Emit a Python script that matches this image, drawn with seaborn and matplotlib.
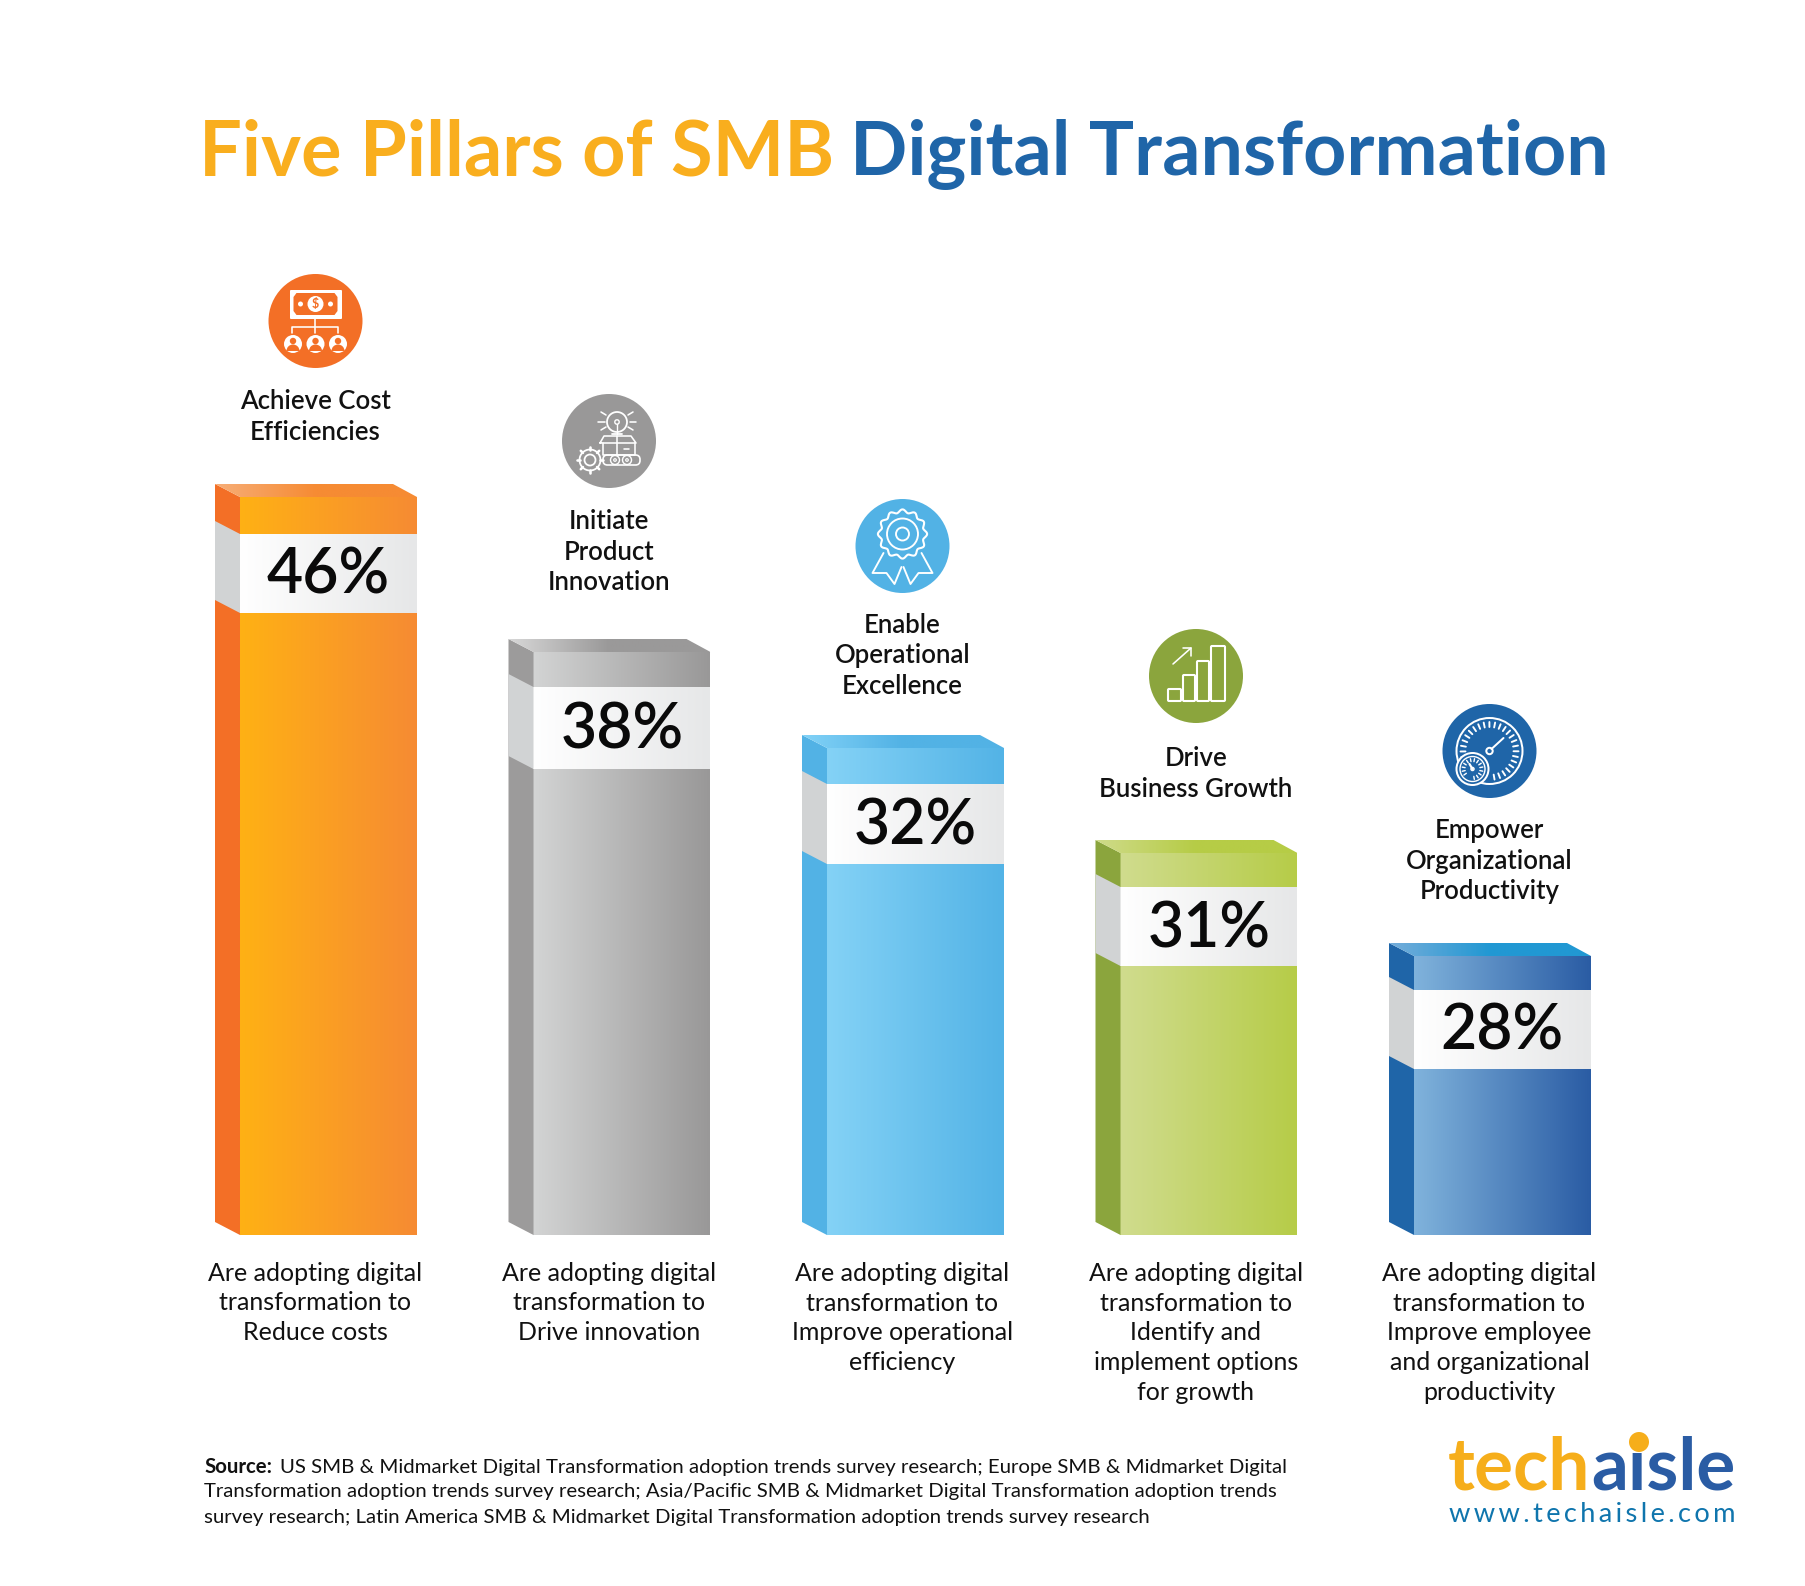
import numpy as np
import pandas as pd
import matplotlib
matplotlib.use('Agg')
import matplotlib.pyplot as plt
import matplotlib.colors as mcolors
from matplotlib.patches import Circle, Polygon, Wedge, FancyBboxPatch
import seaborn as sns

# labels and values
categories = ['Achieve Cost\nEfficiencies', 'Initiate\nProduct\nInnovation',
              'Enable\nOperational\nExcellence', 'Drive\nBusiness Growth',
              'Empower\nOrganizational\nProductivity']
pct_labels = ['46%', '38%', '32%', '31%', '28%']
# the bars in the picture are not proportional to the percent, so heights are read off as drawn
bar_heights = [738, 583, 487, 382, 279]
captions = ['Are adopting digital\ntransformation to\nReduce costs',
            'Are adopting digital\ntransformation to\nDrive innovation',
            'Are adopting digital\ntransformation to\nImprove operational\nefficiency',
            'Are adopting digital\ntransformation to\nIdentify and\nimplement options\nfor growth',
            'Are adopting digital\ntransformation to\nImprove employee\nand organizational\nproductivity']
source_lines = ['US SMB & Midmarket Digital Transformation adoption trends survey research; Europe SMB & Midmarket Digital',
                'Transformation adoption trends survey research; Asia/Pacific SMB & Midmarket Digital Transformation adoption trends',
                'survey research; Latin America SMB & Midmarket Digital Transformation adoption trends survey research']

# colours per bar
front_left = ['#FFB114', '#D3D4D4', '#84D2F6', '#D0DC8E', '#80B3DC']
front_right = ['#F68B33', '#999898', '#53B3E6', '#B6CC48', '#2A5CA4']
side_col = ['#F36F26', '#9C9B9B', '#52B2E5', '#8BA53D', '#1F65A8']
top_left = ['#F7AE78', '#D8D8D8', '#82D2F7', '#CFDB8A', '#75ADDA']
top_right = ['#F68B33', '#9A9999', '#52B2E5', '#B6CC46', '#2198D3']
icon_col = ['#F36F26', '#999898', '#52B2E5', '#8BA53D', '#1F65A8']

# layout in image pixels
W, H = 1806, 1586
BASE = 1235
STEP = 293.5
icon_y = [321, 441, 546, 676, 751]
head_y = [417, 552, 656, 774, 861]
band_off = [37, 35, 36, 34, 34]
band_h = [79, 82, 80, 79, 79]
ICON_R = 47
TXT = '#111111'
FONT = 'Lato'

sns.set_theme(style='white')
plt.rcParams['font.family'] = [FONT, 'DejaVu Sans']

fig = plt.figure(figsize=(W / 100, H / 100), dpi=100, facecolor='white')
ax = fig.add_axes([0, 0, 1, 1])
df = pd.DataFrame({'cat': categories, 'h': bar_heights})
sns.barplot(data=df, x='cat', y='h', hue='cat', palette=front_right, width=177 / STEP,
            legend=False, ax=ax, saturation=1)
ax.set_xlim(-328.5 / STEP, (W - 328.5) / STEP)
ax.set_ylim(BASE - H, BASE)
ax.axis('off')

# overlay in pixels, y down
ov = fig.add_axes([0, 0, 1, 1])
ov.set_xlim(0, W)
ov.set_ylim(H, 0)
ov.axis('off')
ov.patch.set_alpha(0)
ov.set_autoscale_on(False)


def gradient(c0, c1, x0, x1, y0, y1, clip=None, stop=1.0, z=2):
    t = np.clip(np.linspace(0, 1, 256) / stop, 0, 1)[:, None]
    rgb = (1 - t) * np.array(mcolors.to_rgb(c0)) + t * np.array(mcolors.to_rgb(c1))
    im = ov.imshow(rgb[None, :, :], extent=(x0, x1, y1, y0), aspect='auto',
                   interpolation='bilinear', zorder=z)
    if clip is not None:
        clip.set_transform(ov.transData)
        im.set_clip_path(clip)


def line(pts, lw=2.0, c='white', z=6):
    xs, ys = zip(*pts)
    ov.plot(xs, ys, color=c, lw=lw * 0.72, solid_capstyle='round', solid_joinstyle='round', zorder=z)


def ring(x, y, r, lw=2.0, fc='none', z=6):
    ov.add_patch(Circle((x, y), r, fc=fc, ec='white', lw=lw * 0.72, zorder=z))


def spokes(x, y, r0, r1, a0, a1, n, lw=2.0, z=6):
    for a in np.radians(np.linspace(a0, a1, n)):
        line([(x + r0 * np.cos(a), y + r0 * np.sin(a)), (x + r1 * np.cos(a), y + r1 * np.sin(a))], lw, z=z)


def icon_money(x, y, bg):
    ov.add_patch(FancyBboxPatch((x - 25.5, y - 31), 52, 29, boxstyle='round,pad=0,rounding_size=1', fc='white', ec='none', zorder=6))
    ov.add_patch(Polygon([(x - 19, y - 28), (x + 19, y - 28), (x + 22, y - 24), (x + 22, y - 10), (x + 19, y - 6),
                          (x - 19, y - 6), (x - 22, y - 10), (x - 22, y - 24)], fc=bg, ec='none', zorder=6))
    ov.add_patch(Circle((x, y - 17), 8, fc='white', ec='none', zorder=7))
    ov.text(x, y - 17, '$', color=bg, fontsize=9, fontweight='bold', ha='center', va='center', zorder=8)
    for dx in (-15, 15):
        ov.add_patch(Circle((x + dx, y - 17), 2.5, fc='white', ec='none', zorder=7))
    line([(x, y - 3), (x, y + 12)], 1.6)
    line([(x - 23, y + 12), (x - 23, y + 6), (x + 23, y + 6), (x + 23, y + 12)], 1.6)
    for dx in (-22.5, 0, 22.5):
        ov.add_patch(Circle((x + dx, y + 23), 9, fc='white', ec='none', zorder=6))
        ov.add_patch(Circle((x + dx, y + 20), 3.2, fc=bg, ec='none', zorder=7))
        ov.add_patch(Wedge((x + dx, y + 30), 6.5, 180, 360, fc=bg, ec='none', zorder=7))


def icon_idea(x, y, bg):
    ring(x + 8, y - 19, 10, 1.8)
    ring(x + 8, y - 19, 2.2, 1.4)
    line([(x + 8, y - 17), (x + 8, y - 7)], 1.4)
    line([(x + 3, y - 7), (x + 13, y - 7)], 1.8)
    for a, b in [((-11, -19), (-4, -19)), ((21, -19), (27, -19)), ((-8, -29), (-3, -26)),
                 ((24, -29), (19, -26)), ((-8, -11), (-3, -14)), ((24, -11), (19, -14))]:
        line([(x + a[0], y + a[1]), (x + b[0], y + b[1])], 1.6)
    line([(x - 9, y + 2), (x - 5, y - 5), (x + 22, y - 5), (x + 27, y + 2), (x - 9, y + 2)], 1.6)
    line([(x - 6, y + 2), (x - 6, y + 14), (x + 26, y + 14), (x + 26, y + 2)], 1.6)
    line([(x + 8, y - 5), (x + 8, y + 14)], 1.6)
    line([(x + 15, y + 8), (x + 20, y + 8)], 1.6)
    ov.add_patch(FancyBboxPatch((x - 6, y + 14), 37, 10, boxstyle='round,pad=0,rounding_size=4.5', fc='none', ec='white', lw=1.2, zorder=6))
    for dx in (6, 18):
        ring(x + dx, y + 19, 4.5, 1.4)
        ring(x + dx, y + 19, 1.3, 1.2)
    ring(x - 19, y + 19, 10.5, 1.8, fc=bg, z=7)
    ring(x - 19, y + 19, 5.5, 1.8, z=7)
    spokes(x - 19, y + 19, 10, 13, 0, 315, 8, 2.6, z=7)


def icon_badge(x, y, bg):
    t = np.linspace(0, 2 * np.pi, 240)
    r = 23 + 1.6 * np.cos(12 * t)
    ov.plot(x + r * np.cos(t), y - 12 + r * np.sin(t), color='white', lw=1.5, zorder=6)
    ring(x, y - 12, 15.5, 1.9)
    ring(x, y - 12, 6.5, 1.9)
    for s in (-1, 1):
        line([(x + s * 19, y + 7), (x + s * 30, y + 27), (x + s * 16, y + 27), (x + s * 8, y + 38), (x + s * 1, y + 21)], 1.9)


def icon_growth(x, y, bg):
    for x0, y0, x1 in [(-28, 13, -15), (-13, -1, -1), (1, -15, 13), (15, -30, 29)]:
        ov.add_patch(FancyBboxPatch((x + x0, y + y0), x1 - x0, 25 - y0, boxstyle='round,pad=0,rounding_size=1',
                                    fc='none', ec='white', lw=1.5, zorder=6))
    line([(x - 23, y - 12), (x - 5, y - 28)], 1.6)
    line([(x - 13, y - 28), (x - 5, y - 28), (x - 5, y - 20)], 1.6)


def icon_gauge(x, y, bg):
    ring(x, y, 33, 2.0)
    spokes(x, y, 24, 29, -215, 80, 27, 1.9)
    line([(x + 2, y - 2), (x + 14, y - 13)], 2.0)
    ring(x, y, 3.2, 2.0)
    ring(x - 17, y + 18, 16, 2.0, fc=bg, z=7)
    ring(x - 17, y + 18, 12.5, 1.4, z=7)
    spokes(x - 17, y + 18, 7.5, 10.5, -215, 80, 14, 1.4, z=7)
    line([(x - 17, y + 18), (x - 20, y + 13)], 2.2, z=7)
    ring(x - 17, y + 18, 1.5, 1.5, z=7)


icons = [icon_money, icon_idea, icon_badge, icon_growth, icon_gauge]

# 3d faces are built from the bars seaborn placed
for i, bar in enumerate(ax.patches[:len(categories)]):
    (l, b), (r, t) = ax.transData.transform([(bar.get_x(), 0), (bar.get_x() + bar.get_width(), bar.get_height())])
    top = H - t
    bottom = H - b
    back = l - 25
    mid = (l + r) / 2

    gradient(front_left[i], front_right[i], l, r, top, bottom)
    ov.add_patch(Polygon([(back, top - 13), (l, top), (l, bottom), (back, bottom - 13)], fc=side_col[i], ec='none', zorder=2))
    clip = Polygon([(back, top - 13), (r - 24, top - 13), (r, top), (l, top)])
    gradient(top_left[i], top_right[i], back, r, top - 13, top, clip=clip, stop=0.5)

    # white band with the percent
    band_top = top + band_off[i]
    band_bot = band_top + band_h[i]
    gradient('#FFFFFF', '#E6E7E8', l, r, band_top, band_bot, z=3)
    ov.add_patch(Polygon([(back, band_top - 13), (l, band_top), (l, band_bot), (back, band_bot - 13)], fc='#D1D3D4', ec='none', zorder=3))
    ov.text(mid, (band_top + band_bot) / 2 - 3, pct_labels[i], fontsize=45, fontweight='semibold', color='#0A0A0A',
            ha='center', va='center_baseline', zorder=4)

    cx = mid - 13
    ov.add_patch(Circle((cx, icon_y[i]), ICON_R, fc=icon_col[i], ec='none', zorder=5))
    icons[i](cx, icon_y[i], icon_col[i])
    ov.text(cx, head_y[i], categories[i], fontsize=18.5, fontweight='semibold', color=TXT, ha='center', va='center',
            linespacing=1.26, zorder=4)
    n = captions[i].count('\n')
    ov.text(cx, 1273 + 15 * n, captions[i], fontsize=18, color=TXT, ha='center', va='center', linespacing=1.367, zorder=4)

# title
ov.text(834, 154, 'Five Pillars of SMB', fontsize=54.5, fontweight='bold', color='#F9AE1E', ha='right', va='center')
ov.text(850, 154, 'Digital Transformation', fontsize=54.3, fontweight='bold', color='#1F65A8', ha='left', va='center')

# source note
ov.text(204, 1467, 'Source:', fontsize=14.7, fontweight='bold', color=TXT, ha='left', va='center')
ov.text(280, 1467, source_lines[0], fontsize=14.7, color=TXT, ha='left', va='center')
ov.text(204, 1492, source_lines[1], fontsize=14.7, color=TXT, ha='left', va='center')
ov.text(204, 1518, source_lines[2], fontsize=14.7, color=TXT, ha='left', va='center')

# logo
ov.text(1590, 1490, 'tech', fontsize=52.5, fontweight='bold', color='#F6AE1B', ha='right', va='baseline')
ov.text(1591, 1490, 'aisle', fontsize=52.5, fontweight='bold', color='#2A5CA4', ha='left', va='baseline')
ov.add_patch(Circle((1639, 1442), 10, fc='#F6AE1B', ec='none', zorder=6))
ov.text(1592, 1522, '\u2009'.join('www.techaisle.com'), fontsize=19.6, color='#0F75AD', ha='center', va='baseline')

fig.savefig('out.png', dpi=100, facecolor='white')
